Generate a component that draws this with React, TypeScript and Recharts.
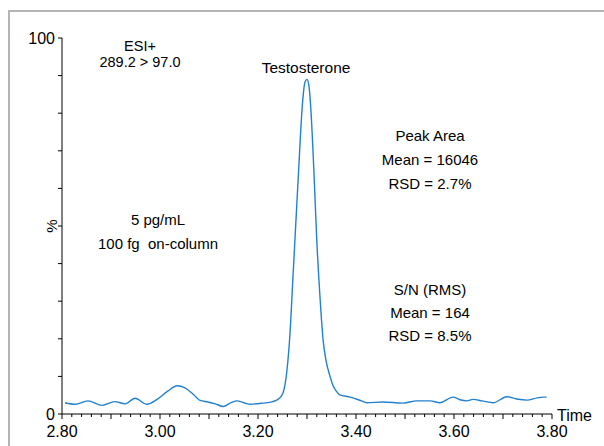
import React from "react";
import { LineChart, Line, XAxis, YAxis, Customized } from "recharts";

const times = [
  2.806, 2.827, 2.853, 2.882, 2.908, 2.929, 2.949, 2.973, 2.994, 3.015,
  3.035, 3.05, 3.065, 3.082, 3.098, 3.113, 3.129, 3.145, 3.157, 3.171,
  3.184, 3.21, 3.23, 3.241, 3.251, 3.259, 3.265, 3.271, 3.278, 3.284,
  3.29, 3.296, 3.3, 3.304, 3.308, 3.314, 3.32, 3.327, 3.333, 3.339,
  3.347, 3.353, 3.359, 3.367, 3.388, 3.405, 3.422, 3.455, 3.496, 3.524,
  3.551, 3.571, 3.598, 3.612, 3.626, 3.639, 3.657, 3.68, 3.708, 3.728,
  3.749, 3.77, 3.782, 3.789,
];
const intensity = [
  3.0, 2.6, 3.5, 2.3, 3.3, 2.7, 4.2, 2.6, 3.9, 6.0,
  7.5, 7.0, 5.6, 3.6, 3.2, 2.7, 2.0, 3.0, 3.5, 3.0,
  2.6, 2.9, 3.3, 3.9, 5.6, 11.5, 20.8, 35.5, 52.8, 67.5,
  81.3, 88.3, 89.0, 87.2, 80.8, 64.8, 46.1, 30.1, 19.5, 14.1,
  10.0, 7.6, 6.2, 5.1, 4.5, 3.8, 3.0, 3.2, 2.9, 3.5,
  3.5, 3.0, 4.5, 3.8, 3.5, 3.9, 3.5, 3.0, 4.6, 4.0,
  3.7, 4.3, 4.5, 4.5,
];

const xTicks = [
  2.8, 2.82, 2.84, 2.86, 2.88, 2.9, 2.92, 2.94, 2.96, 2.98,
  3.0, 3.02, 3.04, 3.06, 3.08, 3.1, 3.12, 3.14, 3.16, 3.18,
  3.2, 3.22, 3.24, 3.26, 3.28, 3.3, 3.32, 3.34, 3.36, 3.38,
  3.4, 3.42, 3.44, 3.46, 3.48, 3.5, 3.52, 3.54, 3.56, 3.58,
  3.6, 3.62, 3.64, 3.66, 3.68, 3.7, 3.72, 3.74, 3.76, 3.78, 3.8,
];
const yTicks = [0, 10, 20, 30, 40, 50, 60, 70, 80, 90, 100];
const yLabels: Record<number, string> = { 0: "0", 100: "100" };
const yAxisTitle = "%";
const xAxisTitle = "Time";

const peakName = "Testosterone";
const topLeftLines = ["ESI+", "289.2 > 97.0"];
const concLines = ["5 pg/mL", "100 fg  on-column"];
const areaLines = ["Peak Area", "Mean = 16046", "RSD = 2.7%"];
const snLines = ["S/N (RMS)", "Mean = 164", "RSD = 8.5%"];

const data = times.map((t, i) => ({ t, v: intensity[i] }));

const FONT = '"Liberation Sans", Arial, Helvetica, sans-serif';

const XTick = (props: any) => {
  const { x, y, payload } = props;
  const v = payload.value as number;
  const h = Math.round(v * 100);
  const major = h % 10 === 0;
  const label = h % 20 === 0;
  return (
    <g>
      <line x1={x} x2={x} y1={y} y2={y + (major ? 5 : 3)} stroke="#000" strokeWidth={1} />
      {label && (
        <text x={x} y={y + 23} textAnchor="middle" fontSize={16} fill="#000" fontFamily={FONT}>
          {v.toFixed(2)}
        </text>
      )}
    </g>
  );
};

const YTick = (props: any) => {
  const { x, y, payload } = props;
  const v = payload.value as number;
  const lab = yLabels[v];
  return (
    <g>
      <line x1={x - 4} x2={x} y1={y} y2={y} stroke="#000" strokeWidth={1} />
      {lab && (
        <text x={x - 7} y={y} dy="0.36em" textAnchor="end" fontSize={16} fill="#000" fontFamily={FONT}>
          {lab}
        </text>
      )}
      {v === 50 && (
        <text
          x={x - 10}
          y={y}
          dy="0.36em"
          textAnchor="middle"
          fontSize={15}
          fill="#000"
          fontFamily={FONT}
          transform={`rotate(-90 ${x - 10} ${y})`}
        >
          {yAxisTitle}
        </text>
      )}
    </g>
  );
};

const lines = (arr: string[], cx: number, y0: number, step: number, size = 15) =>
  arr.map((s, i) => (
    <text
      key={s}
      x={cx}
      y={y0 + i * step}
      textAnchor="middle"
      fontSize={size}
      fill="#000"
      fontFamily={FONT}
      style={{ whiteSpace: "pre" }}
    >
      {s}
    </text>
  ));

const Annotations = () => (
  <g>
    {lines(topLeftLines, 140, 51, 16, 14.5)}
    <text x={306} y={73} textAnchor="middle" fontSize={15.5} fill="#000" fontFamily={FONT}>
      {peakName}
    </text>
    {lines(concLines, 158, 225, 24)}
    {lines(areaLines, 430, 141, 24)}
    {lines(snLines, 430, 295, 23)}
    <text x={557} y={421} fontSize={16} fill="#000" fontFamily={FONT}>
      {xAxisTitle}
    </text>
  </g>
);

export default function App() {
  return (
    <div style={{ position: "absolute", left: 0, top: 0, width: 604, height: 446, background: "#fff", overflow: "hidden" }}>
      <div
        style={{
          position: "absolute",
          left: 8,
          top: 10,
          width: 700,
          height: 600,
          borderLeft: "2px solid #b4b4b4",
          borderTop: "2px solid #b4b4b4",
        }}
      />
      <div style={{ position: "absolute", left: 0, top: 0 }}>
        <LineChart width={604} height={446} data={data} margin={{ top: 38, right: 52, bottom: 0, left: 8 }}>
          <XAxis
            type="number"
            dataKey="t"
            domain={[2.8, 3.8]}
            ticks={xTicks}
            interval={0}
            height={32}
            tickSize={0}
            tickMargin={0}
            tickLine={false}
            tick={<XTick />}
            axisLine={{ stroke: "#000", strokeWidth: 1 }}
            allowDataOverflow
          />
          <YAxis
            type="number"
            domain={[0, 100]}
            ticks={yTicks}
            interval={0}
            width={54}
            tickSize={0}
            tickMargin={0}
            tickLine={false}
            tick={<YTick />}
            axisLine={{ stroke: "#000", strokeWidth: 1 }}
            allowDataOverflow
          />
          <Line
            type="monotone"
            dataKey="v"
            stroke="#2280cf"
            strokeWidth={1.4}
            dot={false}
            activeDot={false}
            isAnimationActive={false}
          />
          <Customized component={Annotations} />
        </LineChart>
      </div>
    </div>
  );
}
